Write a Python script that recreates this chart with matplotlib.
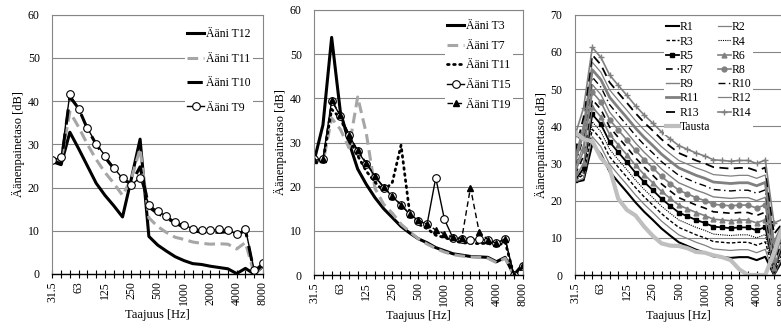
import matplotlib
matplotlib.use('Agg')
import matplotlib.pyplot as plt

plt.rcParams['font.family'] = ['Liberation Serif', 'DejaVu Serif']

# one-third octave bands
bands = ['31.5', '40', '50', '63', '80', '100', '125', '160', '200', '250',
         '315', '400', '500', '630', '800', '1000', '1250', '1600', '2000',
         '2500', '3150', '4000', '5000', '6300', '8000']
labelled = ['31.5', '63', '125', '250', '500', '1000', '2000', '4000', '8000']

# panel 1
p1_T12 = [26.0, 25.3, 32.8, 29.0, 25.0, 21.0, 18.2, 15.8, 13.2, 22.0, 31.2, 8.7,
          6.7, 5.3, 4.0, 3.1, 2.4, 2.2, 1.8, 1.5, 1.2, 0.1, 1.3, 0.0, 1.8]
p1_T11 = [26.5, 26.2, 37.5, 34.0, 30.0, 26.5, 23.5, 21.0, 18.2, 22.0, 29.0, 13.0,
          11.0, 9.6, 8.5, 8.0, 7.4, 7.1, 6.9, 7.0, 6.9, 5.8, 7.3, 0.0, 2.0]
p1_T10 = [26.2, 25.5, 41.0, 38.3, 33.6, 30.0, 27.0, 24.4, 21.8, 21.0, 24.8, 15.5,
          14.0, 13.0, 11.8, 10.8, 10.0, 9.7, 9.8, 9.6, 9.8, 8.9, 10.2, 0.3, 2.2]
p1_T9 = [26.3, 27.0, 41.6, 38.2, 33.8, 30.1, 27.4, 24.6, 22.1, 20.6, 22.3, 16.0,
         14.5, 13.4, 12.1, 11.3, 10.5, 10.2, 10.1, 10.3, 10.2, 9.2, 10.4, 0.9, 2.6]

# panel 2
p2_T3 = [26.0, 34.0, 53.8, 37.0, 30.0, 24.0, 20.5, 17.5, 15.0, 13.0, 11.0, 9.5,
         8.2, 7.3, 6.2, 5.5, 4.8, 4.5, 4.2, 4.1, 4.0, 3.0, 4.0, 0.0, 2.3]
p2_T7 = [26.0, 25.5, 35.5, 33.0, 28.8, 40.3, 32.0, 19.6, 16.0, 14.0, 11.5, 9.8,
         8.2, 7.0, 6.0, 5.2, 4.6, 4.3, 4.1, 4.0, 3.8, 2.8, 3.8, 0.0, 1.5]
p2_T11 = [26.0, 25.8, 37.5, 35.5, 31.0, 27.0, 23.5, 21.0, 19.0, 21.0, 29.4, 14.0,
          11.5, 10.5, 9.0, 8.5, 7.8, 7.3, 7.2, 7.1, 7.2, 6.5, 7.5, 0.0, 1.5]
p2_T15 = [26.2, 26.3, 39.5, 36.0, 31.8, 28.0, 25.2, 22.3, 19.8, 17.8, 15.8, 13.8,
          12.3, 11.5, 22.0, 12.6, 8.3, 8.1, 8.0, 8.1, 7.9, 7.2, 8.2, 0.0, 2.0]
p2_T19 = [26.0, 26.2, 39.6, 36.2, 31.8, 28.2, 25.4, 22.4, 19.9, 17.9, 15.9, 13.8,
          12.4, 11.5, 10.2, 9.3, 8.5, 8.3, 19.8, 9.8, 8.0, 7.2, 8.2, 0.0, 2.3]

# panel 3
R1 = [25.0, 25.5, 35.2, 32.5, 27.8, 25.0, 22.3, 19.5, 17.0, 14.8, 12.5, 10.6, 8.8,
      7.8, 6.8, 6.0, 5.0, 4.8, 4.6, 4.8, 4.8, 4.0, 4.9, 0.0, 4.0]
R2 = [25.0, 26.0, 37.2, 34.5, 29.8, 27.0, 24.3, 21.5, 19.0, 16.8, 14.5, 12.6, 10.8,
      9.8, 8.8, 8.0, 7.0, 6.8, 6.6, 6.8, 6.8, 6.0, 6.9, 0.0, 5.0]
R3 = [25.5, 27.0, 39.2, 36.5, 31.8, 29.0, 26.3, 23.5, 21.0, 18.8, 16.5, 14.6, 12.8,
      11.8, 10.8, 10.0, 9.0, 8.8, 8.6, 8.8, 8.8, 8.0, 8.9, 0.5, 6.0]
R4 = [25.0, 28.0, 41.2, 38.5, 33.8, 31.0, 28.3, 25.5, 23.0, 20.8, 18.5, 16.6, 14.8,
      13.8, 12.8, 12.0, 11.0, 10.8, 10.6, 10.8, 10.8, 10.0, 10.9, 1.0, 7.0]
R5 = [25.5, 28.7, 43.2, 40.5, 35.8, 33.0, 30.3, 27.5, 25.0, 22.8, 20.5, 18.6, 16.8,
      15.8, 14.8, 14.0, 13.0, 12.8, 12.6, 12.8, 12.8, 12.0, 12.9, 1.5, 8.0]
R6 = [26.0, 30.0, 45.2, 42.5, 37.8, 35.0, 32.3, 29.5, 27.0, 24.8, 22.5, 20.6, 18.8,
      17.8, 16.8, 16.0, 15.0, 14.8, 14.6, 14.8, 14.8, 14.0, 14.9, 2.0, 9.0]
R7 = [27.0, 32.0, 47.2, 44.5, 39.8, 37.0, 34.3, 31.5, 29.0, 26.8, 24.5, 22.6, 20.8,
      19.8, 18.8, 18.0, 17.0, 16.8, 16.6, 16.8, 16.8, 16.0, 16.9, 3.0, 10.0]
R8 = [27.5, 33.5, 49.2, 46.5, 41.8, 39.0, 36.3, 33.5, 31.0, 28.8, 26.5, 24.6, 22.8,
      21.8, 20.8, 20.0, 19.0, 18.8, 18.6, 18.8, 18.8, 18.0, 18.9, 4.0, 11.0]
R9 = [28.5, 35.0, 51.2, 48.5, 43.8, 41.0, 38.3, 35.5, 33.0, 30.8, 28.5, 26.6, 24.8,
      23.8, 22.8, 22.0, 21.0, 20.8, 20.6, 20.8, 20.8, 20.0, 20.9, 5.0, 12.0]
R10 = [29.5, 37.0, 53.2, 50.5, 45.8, 43.0, 40.3, 37.5, 35.0, 32.8, 30.5, 28.6, 26.8,
       25.8, 24.8, 24.0, 23.0, 22.8, 22.6, 22.8, 22.8, 22.0, 22.9, 6.0, 12.0]
R11 = [30.5, 38.5, 55.2, 52.5, 47.8, 45.0, 42.3, 39.5, 37.0, 34.8, 32.5, 30.6, 28.8,
       27.8, 26.8, 26.0, 25.0, 24.8, 24.6, 24.8, 24.8, 24.0, 24.9, 8.0, 13.0]
R12 = [31.5, 40.5, 57.2, 54.5, 49.8, 47.0, 44.3, 41.5, 39.0, 36.8, 34.5, 32.6, 30.8,
       29.8, 28.8, 28.0, 27.0, 26.8, 26.6, 26.8, 26.8, 26.0, 26.9, 9.0, 14.0]
R13 = [33.0, 42.5, 59.2, 56.5, 51.8, 49.0, 46.3, 43.5, 41.0, 38.8, 36.5, 34.6, 32.8,
       31.8, 30.8, 30.0, 29.0, 28.8, 28.6, 28.8, 28.8, 28.0, 28.9, 11.0, 14.0]
R14 = [37.5, 45.0, 61.2, 58.5, 53.8, 51.0, 48.3, 45.5, 43.0, 40.8, 38.5, 36.6, 34.8,
       33.8, 32.8, 32.0, 31.0, 30.8, 30.6, 30.8, 30.8, 30.0, 30.9, 14.0, 15.0]
Tausta = [38.5, 36.5, 36.0, 31.5, 28.7, 20.5, 17.5, 16.0, 13.0, 10.5, 8.5, 7.9, 7.8,
          7.2, 6.2, 6.0, 5.3, 4.8, 4.0, 1.5, 0.0, 0.0, 0.0, 6.0, 13.0]

W, H = 781, 329
fig = plt.figure(figsize=(W / 100, H / 100), dpi=100)

GRID = '#868686'
LGRAY = '#a6a6a6'
MGRAY = '#808080'
FS = 8.5


def px_axes(x0, x1, ytop, ybot):
    return fig.add_axes([x0 / W, 1 - ybot / H, (x1 - x0) / W, (ybot - ytop) / H])


def style_axes(ax, ymax, show_right=True):
    x = list(range(len(bands)))
    ax.set_xlim(0, len(bands) - 1)
    ax.set_ylim(0, ymax)
    ax.set_xticks(x)
    ax.set_xticklabels([b if b in labelled else '' for b in bands],
                       rotation=90, fontsize=FS)
    ax.set_yticks(range(0, ymax + 1, 10))
    ax.set_yticklabels([str(v) for v in range(0, ymax + 1, 10)], fontsize=FS)
    ax.tick_params(axis='x', direction='inout', length=6, width=0.8, pad=2,
                   color='black')
    ax.tick_params(axis='y', length=0, pad=9)
    ax.grid(True, axis='y', color=GRID, linewidth=0.8)
    ax.set_axisbelow(True)
    ax.spines['bottom'].set_color('black')
    ax.spines['bottom'].set_linewidth(1.0)
    ax.spines['bottom'].set_zorder(5)
    for s in ['left', 'top', 'right']:
        ax.spines[s].set_color(GRID)
        ax.spines[s].set_linewidth(0.8)
    ax.spines['right'].set_visible(show_right)
    ax.set_xlabel('Taajuus [Hz]', fontsize=FS + 0.5, labelpad=3)
    ax.set_ylabel('Äänenpainetaso [dB]', fontsize=FS + 0.5, labelpad=2)
    return x


def legend_kw(x0, ytop):
    return dict(loc='upper left', bbox_to_anchor=(x0 / W, 1 - ytop / H),
                bbox_transform=fig.transFigure, fontsize=FS, frameon=True,
                facecolor='white', edgecolor='none', framealpha=1,
                fancybox=False, borderaxespad=0)


# ---- panel 1
ax1 = px_axes(52.3, 263.0, 14.7, 274.0)
x = style_axes(ax1, 60)
ax1.plot(x, p1_T12, color='black', lw=2.2, label='Ääni T12')
ax1.plot(x, p1_T11, color=LGRAY, lw=2.2, dashes=(3.5, 1.8), label='Ääni T11')
ax1.plot(x, p1_T10, color='black', lw=2.2, dashes=(5, 3), label='Ääni T10')
ax1.plot(x, p1_T9, color='black', lw=1.0, marker='o', ms=5.5, mfc='white',
         mec='black', mew=0.8, label='Ääni T9')
ax1.legend(borderpad=0.2, handlelength=1.45, handletextpad=0.1,
           labelspacing=1.05, **legend_kw(185, 26))

# ---- panel 2
ax2 = px_axes(314.3, 522.5, 10.0, 275.0)
x = style_axes(ax2, 60)
ax2.plot(x, p2_T3, color='black', lw=2.2, label='Ääni T3')
ax2.plot(x, p2_T7, color=LGRAY, lw=2.2, dashes=(3.5, 1.8), label='Ääni T7')
ax2.plot(x, p2_T11, color='black', lw=2.0, linestyle=(0, (0.6, 1.6)),
         dash_capstyle='round', label='Ääni T11')
ax2.plot(x, p2_T15, color='black', lw=1.0, marker='o', ms=5.5, mfc='white',
         mec='black', mew=0.8, label='Ääni T15')
ax2.plot(x, p2_T19, color='black', lw=1.0, dashes=(4, 2.5), marker='^', ms=5,
         mfc='black', mec='black', label='Ääni T19')
ax2.legend(borderpad=0.2, handlelength=1.45, handletextpad=0.1,
           labelspacing=0.64, **legend_kw(445, 18))

# ---- panel 3 (cut off by the right edge of the picture)
ax3 = px_axes(575.0, 782.6, 14.7, 275.0)
x = style_axes(ax3, 70, show_right=False)
h = {}
h['R1'], = ax3.plot(x, R1, color='black', lw=1.5, label='R1')
h['R2'], = ax3.plot(x, R2, color=MGRAY, lw=0.9, label='R2')
h['R3'], = ax3.plot(x, R3, color='black', lw=1.0, dashes=(2.5, 1.5), label='R3')
h['R4'], = ax3.plot(x, R4, color='black', lw=0.8, dashes=(1, 1), label='R4')
h['R5'], = ax3.plot(x, R5, color='black', lw=1.3, marker='s', ms=3, label='R5')
h['R6'], = ax3.plot(x, R6, color=MGRAY, lw=1.2, marker='^', ms=3.5, label='R6')
h['R7'], = ax3.plot(x, R7, color='black', lw=1.2, dashes=(4, 3), label='R7')
h['R8'], = ax3.plot(x, R8, color=MGRAY, lw=1.2, marker='o', ms=3.5, label='R8')
h['R9'], = ax3.plot(x, R9, color=MGRAY, lw=1.0, label='R9')
h['R10'], = ax3.plot(x, R10, color='black', lw=1.0, dashes=(5, 2.5, 1, 2.5), label='R10')
h['R11'], = ax3.plot(x, R11, color=MGRAY, lw=2.0, label='R11')
h['R12'], = ax3.plot(x, R12, color=MGRAY, lw=0.9, label='R12')
h['R13'], = ax3.plot(x, R13, color='black', lw=1.3, dashes=(5, 3), label='R13')
h['R14'], = ax3.plot(x, R14, color=MGRAY, lw=1.2, marker='+', ms=5, mew=1.0, label='R14')
h['Tausta'], = ax3.plot(x, Tausta, color='#bfbfbf', lw=3.0, label='Tausta')
order = ['R1', 'R3', 'R5', 'R7', 'R9', 'R11', 'R13', 'Tausta',
         'R2', 'R4', 'R6', 'R8', 'R10', 'R12', 'R14']
ax3.legend([h[k] for k in order], order, ncol=2, borderpad=0.15,
           handlelength=1.1, handletextpad=0.1, labelspacing=0.19,
           columnspacing=0.6, **legend_kw(664, 19.5))

fig.savefig('out.png', dpi=100, facecolor='white')
